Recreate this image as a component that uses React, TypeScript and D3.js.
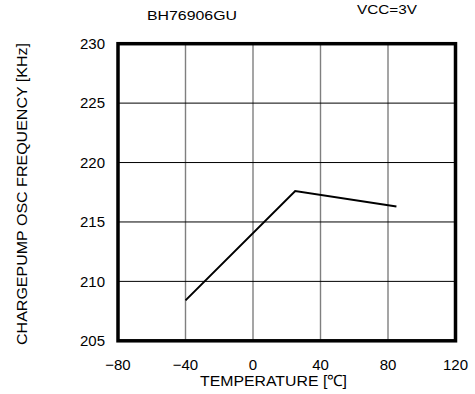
import React from "react";
import * as d3 from "d3";

const temps = [-40, 25, 85];
const freqs = [208.4, 217.6, 216.3];
const xTicks = [-80, -40, 0, 40, 80, 120];
const yTicks = [205, 210, 215, 220, 225, 230];
const title = "BH76906GU";
const condition = "VCC=3V";
const xLabel = "TEMPERATURE [\u2103]";
const yLabel = "CHARGEPUMP OSC FREQUENCY [KHz]";

export default function App() {
  const W = 475, H = 394;
  const L = 118, R = 455.5, T = 43.7, B = 340.8;
  const x = d3.scaleLinear().domain([-80, 120]).range([L, R]);
  const y = d3.scaleLinear().domain([205, 230]).range([B, T]);
  const line = d3.line<number>().x((_, i) => x(temps[i])).y((d) => y(d));
  const font = "Liberation Sans, Arial, sans-serif";
  return (
    <svg width={W} height={H} style={{ position: "absolute", left: 0, top: 0, background: "#fff" }} fontFamily={font}>
      <rect width={W} height={H} fill="#fff" />
      {xTicks.slice(1, -1).map((t) => (
        <line key={"vx" + t} x1={x(t)} x2={x(t)} y1={T} y2={B} stroke="#7f7f7f" strokeWidth={1.4} />
      ))}
      {yTicks.slice(1, -1).map((t) => (
        <line key={"hy" + t} x1={L} x2={R} y1={y(t)} y2={y(t)} stroke="#000" strokeWidth={1} />
      ))}
      <path d={line(freqs) || ""} fill="none" stroke="#000" strokeWidth={2} />
      <rect x={L} y={T} width={R - L} height={B - T} fill="none" stroke="#000" strokeWidth={3.5} />
      {yTicks.map((t) => (
        <text key={"yl" + t} x={105} y={y(t) + 5.2} textAnchor="end" fontSize={15} fill="#000">{t}</text>
      ))}
      {xTicks.map((t) => (
        <text key={"xl" + t} x={x(t)} y={370} textAnchor="middle" fontSize={15} fill="#000">{t < 0 ? "\u2212" + Math.abs(t) : t}</text>
      ))}
      <text x={200} y={386} fontSize={15.5} textLength={147} lengthAdjust="spacingAndGlyphs" fill="#000">{xLabel}</text>
      <text transform={`translate(26.5,345) rotate(-90)`} fontSize={14} textLength={302} lengthAdjust="spacingAndGlyphs" fill="#000">{yLabel}</text>
      <text x={147} y={19.5} fontSize={13} textLength={90} lengthAdjust="spacingAndGlyphs" fill="#000">{title}</text>
      <text x={357} y={13.5} fontSize={13} textLength={60} lengthAdjust="spacingAndGlyphs" fill="#000">{condition}</text>
    </svg>
  );
}
